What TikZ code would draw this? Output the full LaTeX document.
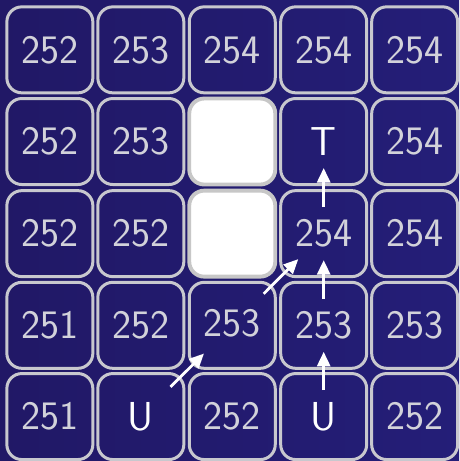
\documentclass[tikz,border=0pt]{standalone}
\usetikzlibrary{matrix,arrows.meta}
\definecolor{navyA}{RGB}{33,24,102}
\definecolor{navyB}{RGB}{36,30,120}
\definecolor{rim}{RGB}{200,200,206}
\definecolor{digit}{RGB}{210,210,218}
\tikzset{
	cell/.style={
		draw=rim, line width=1.7pt, rounded corners=0.3cm, anchor=center,
		minimum width=1.72cm, minimum height=1.72cm, inner sep=0pt,
		text=digit, font=\sffamily\fontsize{23}{24}\selectfont
	},
	hole/.style={fill=white, draw=black!22, line width=2.2pt},
	endcell/.style={text=white},
	move/.style={draw=white, line width=1.6pt, -{Triangle[length=2.9mm,width=2.6mm]}}
}
\begin{document}
\begin{tikzpicture}
	\useasboundingbox (0,0) rectangle (9.18,-9.22);
	\shade[left color=navyA, right color=navyB] (0,0) rectangle (9.18,-9.22);
	\matrix[
		matrix of nodes, nodes={cell}, inner sep=0pt,
		column sep=0.04cm, row sep=0.045cm, anchor=north west
	] (grid) at (0.1,-0.1) {
		252 & 253 & 254 & 254 & 254 \\
		252 & 253 & |[hole]| {} & |[endcell]| T & 254 \\
		252 & 252 & |[hole]| {} & 254 & 254 \\
		251 & 252 & \raisebox{0.1cm}{253} & 253 & 253 \\
		251 & |[endcell]| U & 252 & |[endcell]| U & 252 \\
	};
	% path from the two starts
	\draw[move, shorten <=0.84cm, shorten >=0.8cm] (grid-5-2.center) -- (grid-4-3.center);
	\draw[move, shorten <=0.89cm, shorten >=0.72cm] (grid-4-3.center) -- (grid-3-4.center);
	\foreach \a/\b in {5/4,4/3,3/2}
		\draw[move, shorten <=0.53cm, shorten >=0.53cm] (grid-\a-4.center) -- (grid-\b-4.center);
\end{tikzpicture}
\end{document}
